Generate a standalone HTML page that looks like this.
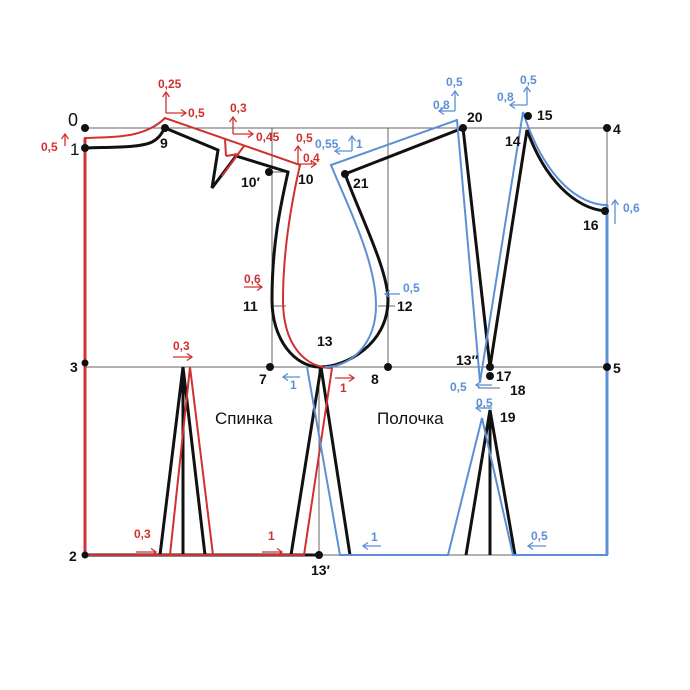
<html><body style="margin:0;background:#fff">
<svg width="690" height="690" viewBox="0 0 690 690" xmlns="http://www.w3.org/2000/svg" font-family="Liberation Sans, sans-serif">
<defs>
<marker id="r" markerWidth="8" markerHeight="8" refX="6" refY="4" orient="auto" markerUnits="userSpaceOnUse"><path d="M1,0.5 L6,4 L1,7.5" fill="none" stroke="#d03030" stroke-width="1.3"/></marker>
<marker id="b" markerWidth="8" markerHeight="8" refX="6" refY="4" orient="auto" markerUnits="userSpaceOnUse"><path d="M1,0.5 L6,4 L1,7.5" fill="none" stroke="#5b8fd6" stroke-width="1.3"/></marker>
</defs>
<g stroke="#666" stroke-width="1" fill="none">
<path d="M85,128H607M272,128V367M388,128V367M85,367H607M85,555H607M319,367V555M607,128V555"/>
<path d="M272,172H288M272,306H286M378,306H395M478,388H500"/>
</g>
<!-- black -->
<g stroke="#111" stroke-width="3" fill="none" stroke-linejoin="miter">
<path d="M85,148 L85,555 L319,555"/>
<path d="M85,148 C110,147 140,148 152,142 C160,138 162,132 165,128 L218,150 L212,188 L236,156 L288,172 C282,200 272,240 272,300 C272,340 295,367 320,367"/>
<path d="M345,174 C360,215 388,270 388,300 C388,345 345,367 320,367"/>
<path d="M345,174 L463,128 L490,367 L527,130 C545,180 575,208 605,211"/>
<path d="M160,555 L183,367 L205,555 M183,367V555"/>
<path d="M291,555 L321,367 L350,555"/>
<path d="M466,555 L490,410 L515,555 M490,410V555"/>
</g>
<!-- red -->
<g stroke="#d03030" stroke-width="2" fill="none">
<path d="M85,555 L85,138 C115,137 145,138 165,118 L300,165 C292,200 283,250 283,300 C283,345 305,368 332,368 L304,555 L85,555"/>
<path d="M225,139 L226,156 M244,146 L222,176 M226,156 L238,154"/>
<path d="M170,555 L190,367 L213,555"/>
<path d="M85,555 L85,138" stroke-width="3"/>
</g>
<!-- blue -->
<g stroke="#5b8fd6" stroke-width="2" fill="none">
<path d="M307,367 L340,555 L448,555 L482,418 L513,555 L607,555 L607,205 C580,205 545,180 523,112 L480,382 L457,120 L331,165 C345,200 376,260 376,305 C376,345 350,367 325,367"/>
<path d="M607,205 V555" stroke-width="3"/>
</g>
<!-- points -->
<g fill="#111">
<circle cx="85" cy="128" r="4"/><circle cx="85" cy="148" r="4"/><circle cx="165" cy="128" r="4"/>
<circle cx="269" cy="172" r="4"/><circle cx="85" cy="363" r="3.5"/><circle cx="270" cy="367" r="4"/>
<circle cx="388" cy="367" r="4"/><circle cx="85" cy="555" r="3.5"/><circle cx="319" cy="555" r="4"/>
<circle cx="345" cy="174" r="4"/><circle cx="463" cy="128" r="4"/><circle cx="528" cy="116" r="4"/>
<circle cx="607" cy="128" r="4"/><circle cx="605" cy="211" r="4"/><circle cx="607" cy="367" r="4"/>
<circle cx="490" cy="367" r="4"/><circle cx="490" cy="376" r="4"/>
</g>
<g font-size="15" fill="#111">
<text x="68" y="126" font-size="18">0</text><text x="70" y="155" font-size="17">1</text>
<text x="160" y="148" font-weight="bold" font-size="14">9</text>
<text x="241" y="187" font-weight="bold" font-size="14">10′</text>
<text x="298" y="184" font-weight="bold" font-size="14">10</text>
<text x="243" y="311" font-weight="bold" font-size="14">11</text>
<text x="397" y="311" font-weight="bold" font-size="14">12</text>
<text x="317" y="346" font-weight="bold" font-size="14">13</text>
<text x="70" y="372" font-weight="bold" font-size="14">3</text>
<text x="259" y="384" font-weight="bold" font-size="14">7</text>
<text x="371" y="384" font-weight="bold" font-size="14">8</text>
<text x="69" y="561" font-weight="bold" font-size="14">2</text>
<text x="311" y="575" font-weight="bold" font-size="14">13′</text>
<text x="353" y="188" font-weight="bold" font-size="14">21</text>
<text x="467" y="122" font-weight="bold" font-size="14">20</text>
<text x="537" y="120" font-weight="bold" font-size="14">15</text>
<text x="505" y="146" font-weight="bold" font-size="14">14</text>
<text x="613" y="134" font-weight="bold" font-size="14">4</text>
<text x="583" y="230" font-weight="bold" font-size="14">16</text>
<text x="613" y="373" font-weight="bold" font-size="14">5</text>
<text x="456" y="365" font-weight="bold" font-size="14">13″</text>
<text x="496" y="381" font-weight="bold" font-size="14">17</text>
<text x="510" y="395" font-weight="bold" font-size="14">18</text>
<text x="500" y="422" font-weight="bold" font-size="14">19</text>
<text x="215" y="424" font-size="17">Спинка</text>
<text x="377" y="424" font-size="17">Полочка</text>
</g>
<!-- red annotations -->
<g stroke="#d03030" stroke-width="1.3" fill="none">
<path d="M65,146 V134" marker-end="url(#r)"/>
<path d="M166,113 V92" marker-end="url(#r)"/><path d="M166,113 H186" marker-end="url(#r)"/>
<path d="M233,134 V117" marker-end="url(#r)"/><path d="M233,134 H253" marker-end="url(#r)"/>
<path d="M298,164 V146" marker-end="url(#r)"/><path d="M298,164 H316" marker-end="url(#r)"/>
<path d="M244,287 H262" marker-end="url(#r)"/>
<path d="M173,357 H192" marker-end="url(#r)"/>
<path d="M136,552 H156" marker-end="url(#r)"/>
<path d="M262,552 H282" marker-end="url(#r)"/>
<path d="M335,378 H354" marker-end="url(#r)"/>
</g>
<g fill="#d03030" font-size="12" font-weight="bold">
<text x="41" y="151">0,5</text>
<text x="158" y="88">0,25</text><text x="188" y="117">0,5</text>
<text x="230" y="112">0,3</text><text x="256" y="141">0,45</text>
<text x="296" y="142">0,5</text><text x="303" y="162">0,4</text>
<text x="244" y="283">0,6</text>
<text x="173" y="350">0,3</text>
<text x="134" y="538">0,3</text>
<text x="268" y="540">1</text>
<text x="340" y="392">1</text>
</g>
<!-- blue annotations -->
<g stroke="#5b8fd6" stroke-width="1.3" fill="none">
<path d="M352,151 H335" marker-end="url(#b)"/><path d="M352,151 V136" marker-end="url(#b)"/>
<path d="M455,111 H439" marker-end="url(#b)"/><path d="M455,111 V91" marker-end="url(#b)"/>
<path d="M527,105 H510" marker-end="url(#b)"/><path d="M527,105 V87" marker-end="url(#b)"/>
<path d="M615,224 V200" marker-end="url(#b)"/>
<path d="M400,294 H385" marker-end="url(#b)"/>
<path d="M300,377 H283" marker-end="url(#b)"/>
<path d="M492,385 H476" marker-end="url(#b)"/>
<path d="M492,408 H476" marker-end="url(#b)"/>
<path d="M381,546 H363" marker-end="url(#b)"/>
<path d="M546,546 H528" marker-end="url(#b)"/>
</g>
<g fill="#5b8fd6" font-size="12" font-weight="bold">
<text x="315" y="148">0,55</text><text x="356" y="148">1</text>
<text x="433" y="109">0,8</text><text x="446" y="86">0,5</text>
<text x="497" y="101">0,8</text><text x="520" y="84">0,5</text>
<text x="623" y="212">0,6</text>
<text x="403" y="292">0,5</text>
<text x="290" y="389">1</text>
<text x="450" y="391">0,5</text>
<text x="476" y="407">0,5</text>
<text x="371" y="541">1</text>
<text x="531" y="540">0,5</text>
</g>
</svg>
</body></html>
